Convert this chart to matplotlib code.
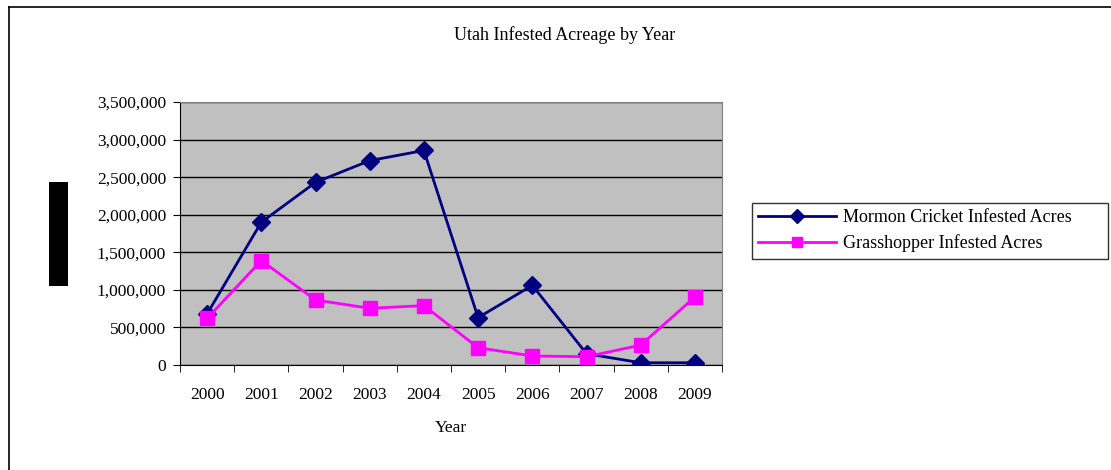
import matplotlib.pyplot as plt
from matplotlib.lines import Line2D
from matplotlib.patches import Rectangle
from matplotlib.ticker import FuncFormatter, MultipleLocator, FixedLocator

years = ['2000', '2001', '2002', '2003', '2004', '2005', '2006', '2007', '2008', '2009']
mormon_cricket = [680000, 1900000, 2430000, 2720000, 2855000, 630000, 1060000, 150000, 30000, 30000]
grasshopper = [620000, 1390000, 865000, 755000, 790000, 230000, 120000, 110000, 265000, 905000]

plt.rcParams['font.family'] = ['Liberation Serif', 'DejaVu Serif']

fig = plt.figure(figsize=(11.11, 4.70), dpi=100)

# chart border: only top and left edges are visible
fig.add_artist(Line2D([8.5 / 1111, 1.0], [1 - 7 / 470, 1 - 7 / 470], transform=fig.transFigure,
                      color='black', linewidth=1.2))
fig.add_artist(Line2D([8.5 / 1111, 8.5 / 1111], [0.0, 1 - 7 / 470], transform=fig.transFigure,
                      color='black', linewidth=1.2))
# black box at left
fig.patches.append(Rectangle((49 / 1111, 1 - 286 / 470), 19 / 1111, 104 / 470, transform=fig.transFigure,
                             facecolor='black', edgecolor='none'))

ax = fig.add_axes([180 / 1111, 1 - 365 / 470, 542 / 1111, 263 / 470])
ax.set_facecolor('#C0C0C0')

x = list(range(len(years)))
ax.plot(x, mormon_cricket, color='#000080', marker='D', markersize=9, linewidth=2,
        label='Mormon Cricket Infested Acres', zorder=3)
ax.plot(x, grasshopper, color='#FF00FF', marker='s', markersize=10, linewidth=2,
        label='Grasshopper Infested Acres', zorder=3)

ax.set_xlim(-0.5, len(years) - 0.5)
ax.set_ylim(0, 3500000)
ax.yaxis.set_major_locator(MultipleLocator(500000))
ax.yaxis.set_major_formatter(FuncFormatter(lambda v, p: f'{int(v):,}'))
ax.grid(axis='y', color='black', linewidth=1.0)
ax.set_axisbelow(True)

ax.set_xticks(x)
ax.set_xticklabels(years)
ax.xaxis.set_minor_locator(FixedLocator([i - 0.5 for i in range(len(years) + 1)]))
ax.tick_params(axis='x', which='major', length=0, pad=16, labelsize=12.5)
ax.tick_params(axis='x', which='minor', length=5, direction='out', color='black')
ax.tick_params(axis='y', length=5, direction='out', labelsize=12.5, pad=5, color='black')

for side in ['left', 'bottom']:
    ax.spines[side].set_color('black')
for side in ['top', 'right']:
    ax.spines[side].set_color('#808080')

ax.set_xlabel('Year', fontsize=12.5, labelpad=12)
fig.text(565 / 1111, 1 - 35 / 470, 'Utah Infested Acreage by Year', ha='center', va='center', fontsize=13)

leg = fig.legend(loc='upper left', bbox_to_anchor=(752 / 1111, 1 - 262 / 470, 356 / 1111, 59 / 470),
                 mode='expand', borderaxespad=0, fontsize=13,
                 frameon=True, fancybox=False, edgecolor='black', handlelength=4.3, markerscale=0.75,
                 borderpad=0.35, labelspacing=0.45, handletextpad=0.4)
leg.get_frame().set_linewidth(1.0)

fig.savefig('out.png', dpi=100)
